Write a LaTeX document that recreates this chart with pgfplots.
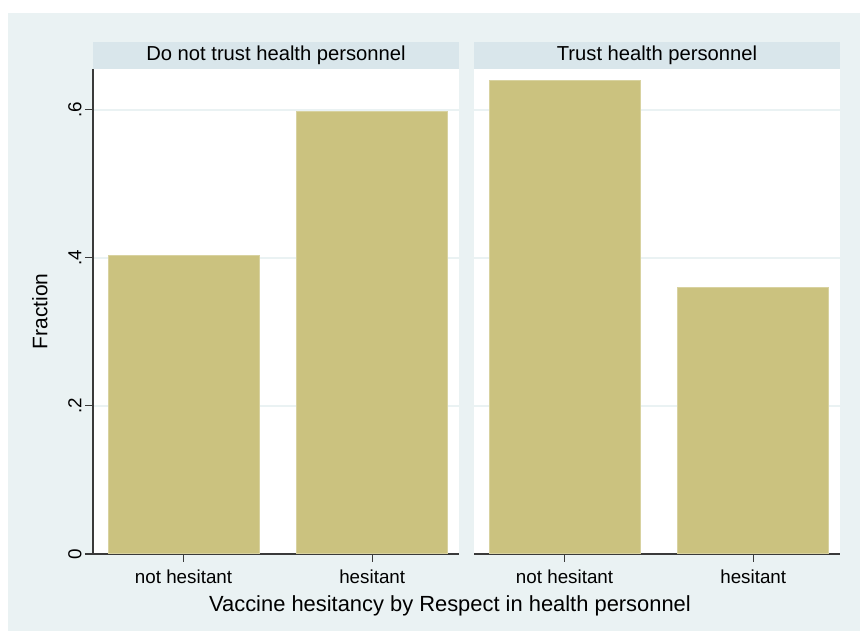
\documentclass[border=0pt]{standalone}
\usepackage{pgfplots}
\pgfplotsset{compat=1.18}
\usepackage{fontspec}
\setmainfont{Liberation Sans}

\definecolor{bgcol}{HTML}{EAF2F3}
\definecolor{stripcol}{HTML}{D9E6EB}
\definecolor{barcol}{HTML}{CBC27F}
\definecolor{baredge}{HTML}{D8D2A0}
\definecolor{gridcol}{HTML}{EAF2F3}
\definecolor{axiscol}{HTML}{3A3A3A}

\pgfplotsset{
  panel/.style={
    scale only axis,
    width=366pt, height=485pt,
    anchor=south west,
    ymin=0, ymax=0.655,
    xmin=0.52, xmax=2.46,
    xtick={1,2},
    xticklabels={not hesitant, hesitant},
    ytick={0,0.2,0.4,0.6},
    ymajorgrids,
    grid style={color=gridcol, line width=1.6pt},
    axis x line=bottom, axis y line=left,
    axis line style={-, color=axiscol, line width=1.2pt},
    tick align=outside,
    major tick length=8pt,
    tick style={color=axiscol, line width=1.1pt},
    ticklabel style={font=\fontsize{18.8}{22}\selectfont, text=black},
    xticklabel style={yshift=-4pt},
    ybar, bar width=0.8,
    every axis title shift=0pt,
    title style={at={(0.5,1)}, anchor=south, fill=stripcol,
      minimum width=366pt, minimum height=27pt, inner sep=0pt,
      font=\fontsize{20.2}{24}\selectfont},
    axis background/.style={fill=white},
  },
  bars/.style={fill=barcol, draw=baredge, line width=1pt},
}

\begin{document}
\begin{tikzpicture}
  \fill[white] (0,0) rectangle (860pt,631pt);
  \fill[bgcol] (8pt,-10pt) rectangle (870pt,618pt);

  % Do not trust health personnel
  \begin{axis}[panel, at={(93pt,77pt)},
    title={Do not trust health personnel},
    yticklabels={0,.2,.4,.6},
    yticklabel style={rotate=90, anchor=south},
    ylabel={Fraction},
    ylabel style={at={(axis description cs:-0.145,0.5)}, anchor=center,
      font=\fontsize{21}{24}\selectfont},
    xlabel={Vaccine hesitancy by Respect in health personnel},
    xlabel style={at={(axis description cs:0.9754,-0.1072)}, anchor=center,
      font=\fontsize{21.9}{26}\selectfont},
  ]
    \addplot[bars] coordinates {(1,0.403) (2,0.597)};
  \end{axis}

  % Trust health personnel
  \begin{axis}[panel, at={(474pt,77pt)},
    title={Trust health personnel},
    yticklabels={},
    y axis line style={draw=none},
    ytick style={draw=none},
  ]
    \addplot[bars] coordinates {(1,0.640) (2,0.360)};
  \end{axis}

  \pgfresetboundingbox
  \path[use as bounding box] (0,0) rectangle (860pt,631pt);
\end{tikzpicture}
\end{document}
